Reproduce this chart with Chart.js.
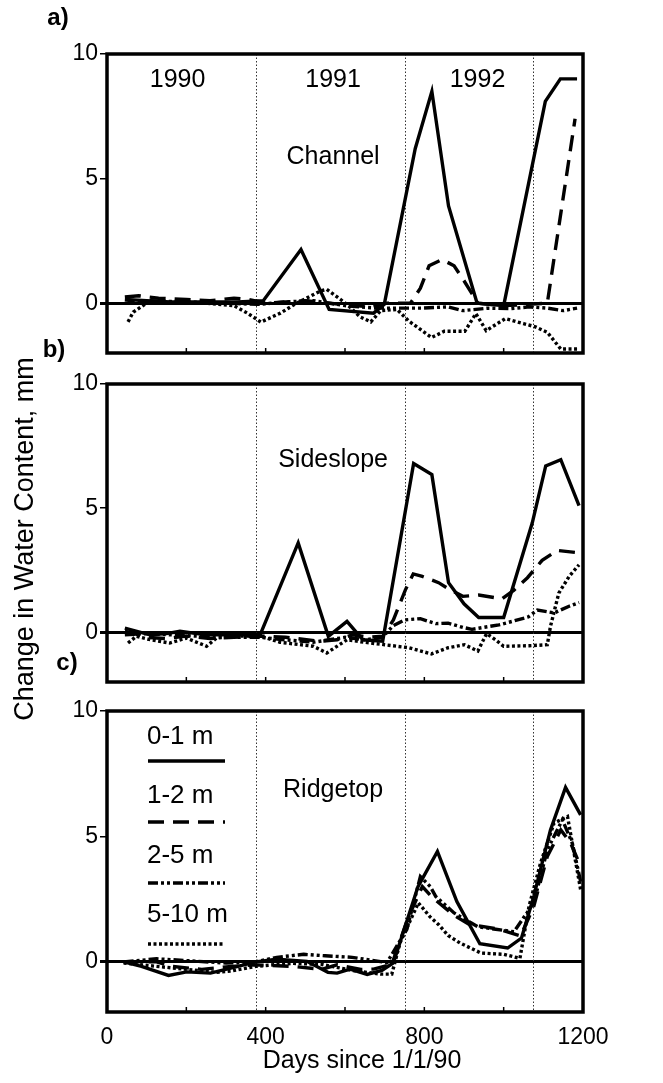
<!DOCTYPE html>
<html>
<head>
<meta charset="utf-8">
<title>Change in Water Content</title>
<script src="https://cdn.jsdelivr.net/npm/chart.js@4.4.1/dist/chart.umd.min.js"></script>
<style>
  html, body { margin: 0; padding: 0; background: #fff; }
  #wrap { position: relative; width: 663px; height: 1083px; }
  #wrap canvas { position: absolute; left: 0; top: 0; width: 663px; height: 1083px; }
</style>
</head>
<body>
<div id="wrap">
  <canvas id="chart-a" width="663" height="1083"></canvas>
  <canvas id="chart-b" width="663" height="1083"></canvas>
  <canvas id="chart-c" width="663" height="1083"></canvas>
</div>
<script>
// Donnees : [jour depuis 1/1/90, variation en mm]
const depthLabels = ['0-1 m', '1-2 m', '2-5 m', '5-10 m'];
const yearLabels = ['1990', '1991', '1992'];
const yearLabelDays = [178, 570, 934];
const yearLines = [375, 750, 1075];
const xTickLabels = [0, 400, 800, 1200];
const yTickValues = [0, 5, 10];

// a) Channel
const channel01 = [[45,0.15],[100,0.1],[160,0.05],[250,0.05],[330,0.05],[394,0.1],[489,2.15],[560,-0.25],[672,-0.4],[699,-0.05],[777,6.2],[819,8.5],[861,3.9],[933,0.0],[1000,-0.1],[1105,8.1],[1143,9.0],[1185,9.0]];
const channel12 = [[45,0.25],[80,0.3],[130,0.2],[200,0.15],[260,0.1],[320,0.2],[355,0.15],[400,0.0],[450,0.05],[500,0.1],[560,0.0],[620,-0.1],[672,-0.15],[700,0.0],[765,0.0],[790,0.6],[812,1.5],[845,1.75],[875,1.5],[900,0.9],[935,0.0],[1000,-0.1],[1060,-0.05],[1110,0.0],[1180,7.4]];
const channel25 = [[45,0.0],[100,0.1],[200,0.05],[300,0.0],[380,-0.05],[450,0.05],[520,0.1],[600,-0.1],[680,-0.2],[724,-0.2],[792,-0.2],[860,-0.15],[897,-0.3],[960,-0.2],[1018,-0.22],[1064,-0.15],[1110,-0.2],[1150,-0.3],[1185,-0.2]];
const channel510 = [[53,-0.75],[66,-0.36],[100,0.0],[160,0.05],[250,0.0],[320,-0.1],[354,-0.4],[388,-0.76],[437,-0.4],[478,0.0],[540,0.5],[554,0.55],[580,0.25],[605,-0.05],[638,-0.55],[665,-0.75],[690,-0.3],[731,-0.25],[761,-0.72],[818,-1.38],[850,-1.13],[902,-1.13],[930,-0.42],[956,-1.1],[1004,-0.62],[1050,-0.82],[1080,-0.95],[1110,-1.17],[1144,-1.84],[1185,-1.84]];

// b) Sideslope
const side01 = [[45,0.17],[108,-0.1],[150,-0.05],[184,0.04],[250,-0.1],[320,-0.1],[386,-0.1],[482,3.6],[558,-0.16],[605,0.44],[645,-0.3],[695,-0.36],[773,6.8],[819,6.35],[861,2.0],[900,1.15],[937,0.6],[1000,0.6],[1072,4.4],[1106,6.7],[1144,6.95],[1190,5.1]];
const side12 = [[45,0.05],[100,-0.2],[150,-0.25],[200,-0.15],[260,-0.25],[320,-0.2],[386,-0.15],[450,-0.2],[537,-0.36],[580,-0.3],[620,-0.1],[660,-0.2],[695,-0.16],[722,0.5],[752,1.7],[772,2.35],[795,2.25],[836,2.0],[861,1.75],[897,1.45],[937,1.5],[996,1.35],[1026,1.7],[1060,2.2],[1097,2.9],[1135,3.3],[1190,3.2]];
const side25 = [[45,-0.1],[100,-0.05],[160,-0.1],[220,-0.15],[300,-0.2],[386,-0.2],[450,-0.3],[520,-0.4],[560,-0.3],[600,-0.2],[650,-0.3],[695,-0.2],[720,0.25],[750,0.5],[790,0.55],[829,0.35],[860,0.37],[897,0.2],[920,0.12],[950,0.2],[988,0.3],[1026,0.46],[1062,0.62],[1085,0.9],[1127,0.78],[1165,1.05],[1190,1.2]];
const side510 = [[53,-0.43],[74,-0.16],[110,-0.3],[158,-0.43],[200,-0.23],[251,-0.56],[276,-0.23],[330,-0.15],[386,-0.15],[436,-0.4],[520,-0.56],[554,-0.83],[605,-0.3],[635,-0.37],[700,-0.5],[761,-0.62],[818,-0.87],[860,-0.62],[901,-0.5],[935,-0.75],[957,-0.05],[980,-0.31],[1000,-0.56],[1064,-0.54],[1110,-0.5],[1118,0.24],[1139,1.58],[1165,2.25],[1190,2.72]];

// c) Ridgetop
const ridge01 = [[42,0.0],[87,-0.18],[155,-0.54],[201,-0.4],[261,-0.45],[330,-0.18],[375,0.0],[428,0.1],[504,0.02],[557,-0.42],[580,-0.45],[613,-0.29],[656,-0.5],[693,-0.34],[722,-0.04],[784,3.0],[833,4.4],[882,2.4],[940,0.72],[1010,0.55],[1045,0.95],[1076,2.62],[1118,5.26],[1156,6.95],[1194,5.86]];
const ridge12 = [[42,0.0],[125,0.0],[163,-0.18],[239,-0.3],[315,-0.18],[375,-0.12],[466,-0.18],[542,-0.3],[580,-0.12],[640,-0.3],[672,-0.29],[718,-0.1],[760,1.8],[795,3.0],[818,2.6],[875,1.85],[912,1.5],[988,1.3],[1043,1.03],[1076,2.22],[1110,4.2],[1144,5.26],[1169,4.73],[1194,3.8]];
const ridge25 = [[42,0.0],[125,0.12],[200,0.05],[300,-0.05],[375,0.0],[428,0.18],[496,0.3],[550,0.24],[618,0.18],[706,-0.03],[756,1.3],[790,3.4],[815,3.0],[829,2.6],[875,1.95],[935,1.4],[980,1.3],[1026,1.2],[1076,2.35],[1110,4.47],[1148,5.66],[1173,4.73],[1194,3.2]];
const ridge510 = [[42,-0.05],[125,-0.18],[201,-0.3],[277,-0.42],[315,-0.36],[375,-0.18],[466,-0.06],[540,-0.1],[625,-0.36],[689,-0.49],[718,-0.49],[739,0.77],[785,2.35],[814,1.8],[837,1.47],[860,1.05],[890,0.75],[943,0.35],[1000,0.3],[1041,0.14],[1064,2.22],[1093,3.94],[1127,5.53],[1161,5.79],[1194,2.88]];

// Styles des traits (plein, tirets, tiret-point-point, pointilles)
const lineDashes = [[], [16, 9], [10, 3, 3, 3, 3, 3], [3, 2.5]];
const FONT = '"Liberation Sans", Arial, Helvetica, sans-serif';

Chart.defaults.font.family = FONT;
Chart.defaults.font.size = 23;
Chart.defaults.color = '#000';

const toXY = pts => pts.map(([x, y]) => ({ x: x, y: y }));

// Plugin pour le cadre, les lignes d'annees et les textes
const decorPlugin = {
    id: 'decor',
    beforeDatasetsDraw(chart) {
        const { ctx, chartArea: a, scales: { x } } = chart;
        ctx.save();
        ctx.strokeStyle = '#333';
        ctx.lineWidth = 1;
        ctx.setLineDash([1.5, 2]);
        yearLines.forEach(d => {
            const px = Math.round(x.getPixelForValue(d)) + 0.5;
            ctx.beginPath();
            ctx.moveTo(px, a.top);
            ctx.lineTo(px, a.bottom);
            ctx.stroke();
        });
        ctx.restore();
    },
    afterDatasetsDraw(chart, args, opts) {
        const { ctx, chartArea: a, scales: { x, y } } = chart;
        ctx.save();

        // cadre
        ctx.strokeStyle = '#000';
        ctx.lineWidth = 3.5;
        ctx.strokeRect(a.left, a.top, a.right - a.left, a.bottom - a.top);

        // petites graduations vers l'interieur
        ctx.lineWidth = 1.5;
        for (let d = 200; d < 1200; d += 200) {
            const px = x.getPixelForValue(d);
            ctx.beginPath();
            ctx.moveTo(px, a.bottom);
            ctx.lineTo(px, a.bottom - 5);
            ctx.stroke();
        }

        ctx.fillStyle = '#000';
        ctx.textAlign = 'center';
        ctx.textBaseline = 'middle';

        // lettre du panneau
        ctx.font = `bold 24px ${FONT}`;
        ctx.fillText(opts.letter, a.left + opts.letterOffset[0], a.top + opts.letterOffset[1]);

        // nom du site
        ctx.font = `25px ${FONT}`;
        ctx.fillText(opts.site, x.getPixelForValue(opts.siteAt[0]), y.getPixelForValue(opts.siteAt[1]));

        if (opts.years) {
            yearLabels.forEach((t, i) => {
                ctx.fillText(t, x.getPixelForValue(yearLabelDays[i]), y.getPixelForValue(8.95));
            });
        }

        if (opts.legend) {
            ctx.textAlign = 'left';
            depthLabels.forEach((t, i) => {
                ctx.font = `26px ${FONT}`;
                ctx.fillText(t, a.left + 40, a.top + 26 + i * 59.3);
                const ly = a.top + 50 + i * 61;
                ctx.lineWidth = 3.5;
                ctx.setLineDash(lineDashes[i]);
                ctx.beginPath();
                ctx.moveTo(a.left + 41, ly);
                ctx.lineTo(a.left + 118, ly);
                ctx.stroke();
            });
            ctx.setLineDash([]);
        }

        if (opts.xTitle) {
            ctx.textAlign = 'center';
            ctx.font = `25px ${FONT}`;
            ctx.fillText(opts.xTitle, (a.left + a.right) / 2 + 17, a.bottom + 49);
        }

        if (opts.yTitle) {
            ctx.font = `27px ${FONT}`;
            ctx.textAlign = 'center';
            ctx.translate(26, (a.top + a.bottom) / 2 + 6);
            ctx.rotate(-Math.PI / 2);
            ctx.fillText(opts.yTitle, 0, 0);
        }
        ctx.restore();
    }
};

// Fonction pour construire un panneau
function buildPanel(canvasId, series, area, decor) {
    const datasets = series.map((pts, i) => ({
        label: depthLabels[i],
        data: toXY(pts),
        borderColor: '#000',
        borderWidth: 3.4,
        borderDash: lineDashes[i],
        pointRadius: 0,
        tension: 0,
        fill: false
    }));

    const zeroLine = c => (c.tick && c.tick.value === 0 ? 3 : 1.5);

    return new Chart(document.getElementById(canvasId), {
        type: 'line',
        data: { datasets: datasets },
        options: {
            responsive: false,
            animation: false,
            events: [],
            layout: {
                padding: {
                    left: 0,
                    right: 663 - area.right,
                    top: area.top,
                    bottom: 1083 - area.bottom - area.xAxisHeight
                }
            },
            plugins: {
                legend: { display: false },
                tooltip: { enabled: false },
                decor: decor
            },
            scales: {
                x: {
                    type: 'linear',
                    min: 0,
                    max: 1200,
                    grid: { display: false },
                    border: { display: false },
                    ticks: {
                        display: area.xLabels,
                        stepSize: 200,
                        autoSkip: false,
                        maxRotation: 0,
                        padding: 4,
                        font: { size: 23 },
                        callback: v => (xTickLabels.includes(v) ? String(v) : '')
                    },
                    afterFit: s => { s.height = area.xAxisHeight; }
                },
                y: {
                    min: -2,
                    max: 10,
                    afterBuildTicks: s => { s.ticks = yTickValues.map(v => ({ value: v })); },
                    grid: {
                        color: c => (c.tick && c.tick.value === 0 ? '#000' : 'rgba(0,0,0,0)'),
                        lineWidth: zeroLine,
                        tickColor: '#000',
                        tickWidth: zeroLine,
                        tickLength: 7
                    },
                    border: { display: false },
                    ticks: { padding: 2, font: { size: 23 } },
                    afterFit: s => { s.width = area.left; }
                }
            }
        },
        plugins: [decorPlugin]
    });
}

window.onload = function() {
    buildPanel('chart-a', [channel01, channel12, channel25, channel510],
        { left: 107, right: 583, top: 54, bottom: 353, xAxisHeight: 0, xLabels: false },
        { letter: 'a)', letterOffset: [-49, -36], site: 'Channel', siteAt: [570, 5.85], years: true });

    buildPanel('chart-b', [side01, side12, side25, side510],
        { left: 107, right: 583, top: 384, bottom: 682, xAxisHeight: 0, xLabels: false },
        { letter: 'b)', letterOffset: [-53, -34], site: 'Sideslope', siteAt: [570, 6.95],
          yTitle: 'Change in Water Content, mm' });

    buildPanel('chart-c', [ridge01, ridge12, ridge25, ridge510],
        { left: 107, right: 583, top: 711, bottom: 1012, xAxisHeight: 70, xLabels: true },
        { letter: 'c)', letterOffset: [-40, -48], site: 'Ridgetop', siteAt: [570, 6.85],
          legend: true, xTitle: 'Days since 1/1/90' });
};
</script>
</body>
</html>
